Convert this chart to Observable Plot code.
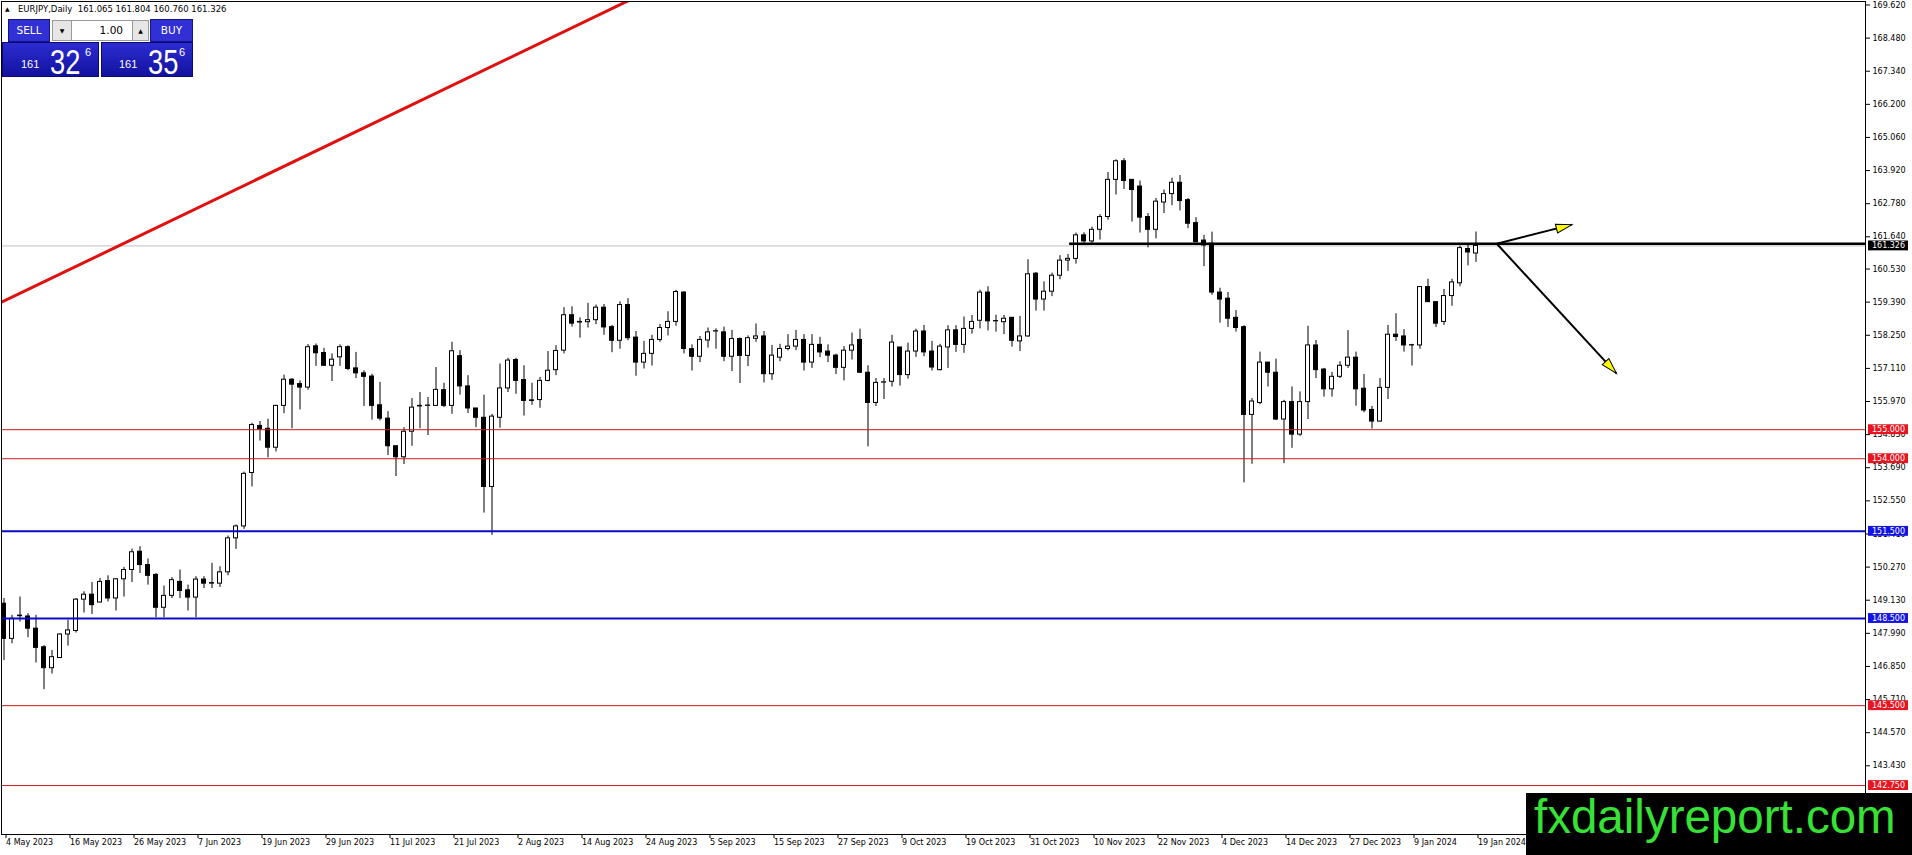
<!DOCTYPE html>
<html><head><meta charset="utf-8">
<script src="https://cdn.jsdelivr.net/npm/d3@7"></script>
<script src="https://cdn.jsdelivr.net/npm/@observablehq/plot@0.6"></script>
<style>
body{margin:0;background:#fff;}
#wrap{position:relative;width:1912px;height:855px;overflow:hidden;font-family:"DejaVu Sans",sans-serif;}
.abs{position:absolute;box-sizing:border-box;}
.btn{background:#3030d4;color:#fff;font-size:10.5px;text-align:center;line-height:21px;border:1px solid #14148a;}
.spin{background:#e6e6e6;border:1px solid #9a9a9a;font-size:6px;text-align:center;line-height:19px;color:#000;}
.pbox{background:linear-gradient(to bottom,#2c2cd2,#12129e);border:1px solid #0a0a70;color:#fff;}
.small{position:absolute;font-family:"Liberation Sans",sans-serif;font-size:11px;line-height:11px;}
.big{position:absolute;font-family:"Liberation Sans",sans-serif;font-size:35px;line-height:35px;transform:scaleX(0.78);transform-origin:left top;}
</style></head><body><div id="wrap"></div>
<script>
// ---- data ----
const opens = [149.01,147.80,148.58,148.57,148.15,147.51,146.79,147.14,147.95,148.07,149.15,149.32,149.05,149.79,149.19,149.85,150.17,150.80,150.34,150.00,
148.87,149.28,149.76,149.47,149.22,149.84,149.70,149.70,150.09,151.26,151.67,153.51,155.13,155.03,154.38,155.82,156.72,156.57,156.45,157.87,
157.64,157.20,157.49,157.84,157.11,156.94,156.83,155.84,155.38,154.43,154.05,154.93,155.80,155.82,155.82,156.36,155.82,157.53,156.49,155.73,
155.41,153.03,155.41,156.42,157.40,156.71,156.01,156.02,156.68,157.05,157.72,158.94,158.71,158.70,158.77,159.20,158.53,158.06,159.29,158.17,
157.31,157.61,158.09,158.50,158.71,159.72,157.77,157.51,158.07,158.38,158.35,157.51,158.12,157.54,158.13,158.21,156.91,157.48,157.78,157.86,
158.09,157.31,157.92,157.69,157.55,157.13,157.72,158.09,156.96,155.92,156.62,156.65,157.83,156.88,157.69,158.38,157.69,157.05,157.83,158.42,
157.92,158.47,158.75,159.72,158.73,158.70,158.85,158.04,158.21,160.37,159.48,159.75,160.30,160.82,160.88,161.69,161.48,161.88,162.32,163.60,
164.24,163.60,163.37,162.32,161.88,162.82,163.11,163.50,162.90,162.11,161.51,161.40,159.72,159.51,158.85,158.53,155.51,155.92,157.31,156.96,
155.35,155.95,154.83,155.95,157.90,157.07,156.39,156.82,157.20,157.48,156.41,155.68,155.28,156.44,158.27,158.21,157.90,157.90,159.91,159.39,
158.71,159.60,160.04,161.22,161.065];
const highs = [149.19,148.61,149.24,148.67,148.61,147.57,147.40,147.97,148.44,149.19,149.42,149.74,149.88,149.97,149.88,150.26,150.89,150.97,150.55,150.05,
149.62,149.91,150.17,149.65,149.94,149.94,150.40,150.28,151.34,151.72,153.54,155.22,155.28,155.36,155.84,156.88,156.76,156.68,157.93,157.95,
157.80,157.61,157.92,157.89,157.66,157.03,156.91,156.63,155.62,154.44,155.07,156.07,156.28,156.11,157.14,156.60,158.01,157.72,156.86,155.73,
156.19,155.53,157.26,157.46,157.46,157.20,156.60,156.80,157.69,157.89,159.20,159.23,158.85,159.35,159.29,159.31,158.59,159.40,159.51,158.38,
158.04,158.25,158.62,159.06,159.80,159.75,157.92,158.21,158.50,158.47,158.53,158.42,158.16,158.23,158.64,158.38,157.90,157.94,158.27,158.42,
158.27,158.27,158.18,157.92,157.60,157.86,158.33,158.46,157.20,156.76,156.76,158.25,157.83,157.98,158.46,158.59,158.04,157.94,158.58,158.58,
158.88,158.93,159.80,159.92,158.94,158.93,158.87,158.90,160.85,160.41,160.09,160.39,160.99,161.03,161.77,161.78,161.97,162.40,163.85,164.29,
164.33,163.60,163.56,162.44,162.96,163.25,163.66,163.75,162.96,162.30,161.69,161.80,159.87,159.72,159.10,158.58,156.07,157.67,157.31,157.43,
156.01,156.47,156.30,158.56,158.07,157.11,156.97,157.34,158.41,157.67,156.90,155.80,156.76,158.59,158.99,158.44,157.94,159.91,160.18,159.39,
159.83,160.18,161.32,161.40,161.804];
const lows = [147.05,147.63,148.38,147.84,146.97,146.05,146.59,147.12,147.55,148.00,148.69,148.64,149.04,149.07,148.76,149.24,149.74,150.05,149.65,148.53,
148.53,149.19,149.19,148.76,148.53,149.53,149.53,149.57,149.97,150.88,151.57,153.03,154.61,154.03,154.23,155.55,155.03,155.68,156.36,157.18,
157.19,156.66,157.18,157.03,156.76,155.80,155.33,155.30,154.11,153.39,153.80,154.43,155.03,154.80,155.80,155.76,155.53,156.19,155.56,155.07,
152.13,151.36,155.05,156.28,156.22,155.47,155.84,155.74,156.65,156.86,157.61,158.53,158.15,158.50,158.62,158.25,157.65,157.77,158.06,156.84,
157.09,157.19,158.01,158.23,158.56,157.61,157.02,157.31,157.81,157.77,157.34,157.00,156.59,157.17,158.01,156.61,156.70,157.34,157.71,157.72,
157.02,157.11,157.48,157.31,156.90,156.68,157.40,156.95,154.41,155.80,156.04,156.47,156.50,156.74,157.49,157.51,157.02,157.02,157.11,157.66,
157.63,158.29,158.47,158.40,158.36,158.27,157.84,157.69,158.18,159.08,159.08,159.58,160.16,160.45,160.70,161.36,161.36,161.53,162.21,163.08,
163.27,162.15,161.77,161.26,161.57,162.44,162.71,162.53,161.92,161.45,160.61,159.63,158.67,158.52,158.36,153.17,153.81,155.86,156.47,155.31,
153.83,154.36,154.77,155.35,156.76,156.12,156.12,156.76,157.11,155.81,155.58,155.02,155.26,156.04,158.04,157.67,157.19,157.77,159.39,158.52,
158.59,159.25,159.92,160.64,160.760];
const closes = [147.80,148.49,148.60,148.15,147.49,146.79,147.17,147.95,148.09,149.15,149.32,148.96,149.76,149.19,149.85,150.17,150.78,150.34,149.97,148.87,
149.28,149.82,149.45,149.22,149.84,149.70,149.72,150.09,151.26,151.67,153.48,155.16,155.01,154.38,155.82,156.72,156.55,156.45,157.84,157.63,
157.20,157.41,157.84,157.09,156.94,156.82,155.82,155.38,154.43,154.05,154.93,155.76,155.82,155.83,156.37,155.82,157.70,156.49,155.73,155.41,
153.03,155.45,156.42,157.38,156.68,155.99,155.99,156.68,157.03,157.71,158.94,158.65,158.69,158.77,159.20,158.52,158.06,159.29,158.15,157.31,
157.61,158.09,158.50,158.71,159.74,157.78,157.51,158.09,158.35,158.39,157.51,158.12,157.54,158.15,158.21,156.91,157.55,157.78,157.86,158.09,
157.31,157.92,157.66,157.55,157.13,157.72,157.90,156.96,155.92,156.61,156.63,158.00,156.88,157.69,158.38,157.66,157.14,157.86,158.42,157.92,
158.47,158.71,159.72,158.73,158.74,158.82,158.06,158.21,160.35,159.48,159.75,160.30,160.82,160.88,161.69,161.48,161.88,162.32,163.60,164.24,
163.56,163.25,162.30,161.88,162.85,163.11,163.50,162.87,162.09,161.45,161.34,159.72,159.48,158.82,158.50,155.51,155.97,157.31,156.96,155.35,
155.95,154.83,155.95,157.90,157.05,156.39,156.82,157.20,157.48,156.39,155.66,155.28,156.44,158.27,158.19,157.90,157.91,159.91,159.39,158.65,
159.60,160.07,161.25,161.10,161.326];

const xLabels = ["4 May 2023","16 May 2023","26 May 2023","7 Jun 2023","19 Jun 2023","29 Jun 2023","11 Jul 2023","21 Jul 2023",
"2 Aug 2023","14 Aug 2023","24 Aug 2023","5 Sep 2023","15 Sep 2023","27 Sep 2023","9 Oct 2023","19 Oct 2023","31 Oct 2023",
"10 Nov 2023","22 Nov 2023","4 Dec 2023","14 Dec 2023","27 Dec 2023","9 Jan 2024","19 Jan 2024"];
const xLabelBars = [0,8,16,24,32,40,48,56,64,72,80,88,96,104,112,120,128,136,144,152,160,168,176,184];
const yTicks = [169.62,168.48,167.34,166.20,165.06,163.92,162.78,161.64,160.53,159.39,158.25,157.11,155.97,154.83,153.69,152.55,151.41,150.27,149.13,147.99,146.85,145.71,144.57,143.43];
const redLevels = [155.0,154.0,145.5,142.75];
const blueLevels = [151.5,148.5];
const lastPrice = 161.326;
const resistance = [{bar1:133.2, price:161.40}];
const trendLine = [{bar:-0.44, price:159.37},{bar:78.05, price:169.77}];
const arrows = [{bar1:186.6, p1:161.40, bar2:196.0, p2:162.06},{bar1:186.6, p1:161.40, bar2:201.55, p2:156.94}];
const headerText = "EURJPY,Daily  161.065 161.804 160.760 161.326";

// ---- layout ----
const W = 1912, H = 855, mL = 1, mR = 47, mT = 1, mB = 21;
const xDomain = [-0.3125, 232.6875];
const yDomain = [141.065, 169.740];
const xMax = xDomain[1];
const sx = d3.scaleLinear(xDomain, [mL, W - mR]);
const sy = d3.scaleLinear(yDomain, [H - mB, mT]);

const candles = opens.map((o, i) => ({i, o, h: highs[i], l: lows[i], c: closes[i]}));
const labelMap = new Map(xLabelBars.map((b, i) => [b, xLabels[i]]));

const headSymbol = {draw(ctx, size) { ctx.moveTo(0, 0); ctx.lineTo(4.5, 16); ctx.lineTo(-4.5, 16); ctx.closePath(); }};
const angle = d => Math.atan2(sx(d.bar2) - sx(d.bar1), -(sy(d.p2) - sy(d.p1))) * 180 / Math.PI;

const bx1 = xMax + 3/8, bx2 = xMax + 43/8, bxc = xMax + 23/8, bh = 0.17;
const tag = v => ({v});

const chart = Plot.plot({
  width: W, height: H, marginLeft: mL, marginRight: mR, marginTop: mT, marginBottom: mB,
  x: {type: "linear", domain: xDomain},
  y: {type: "linear", domain: yDomain},
  style: {fontFamily: "DejaVu Sans", fontSize: "8px", background: "white", color: "black", overflow: "visible"},
  marks: [
    Plot.ruleY([lastPrice], {stroke: "#c0c0c0", strokeWidth: 1}),
    Plot.line(trendLine, {x: "bar", y: "price", stroke: "#e01010", strokeWidth: 3, clip: true}),
    Plot.ruleX(candles, {x: "i", y1: "l", y2: "h", stroke: "black", strokeWidth: 1}),
    Plot.rect(candles, {x1: d => d.i - 0.25, x2: d => d.i + 0.25, y1: "o", y2: "c",
      fill: d => d.c >= d.o ? "white" : "black", stroke: "black", strokeWidth: 1}),
    Plot.ruleY(redLevels, {stroke: "#cc1a1a", strokeWidth: 1}),
    Plot.ruleY(blueLevels, {stroke: "#0a0ac8", strokeWidth: 2}),
    Plot.ruleY(resistance, {y: "price", x1: "bar1", x2: () => xMax, stroke: "black", strokeWidth: 2.5}),
    Plot.link(arrows, {x1: "bar1", y1: "p1", x2: "bar2", y2: "p2", stroke: "black", strokeWidth: 2}),
    Plot.dot(arrows, {x: "bar2", y: "p2", symbol: headSymbol, r: 5, fill: "#ffff00", stroke: "black", strokeWidth: 1, rotate: angle}),
    Plot.frame({stroke: "black"}),
    Plot.axisX({ticks: xLabelBars, anchor: "bottom", tickSize: 4, tickPadding: 1, textAnchor: "start", dx: 2,
      tickFormat: d => labelMap.get(d), fontSize: 8}),
    Plot.axisY({ticks: yTicks, anchor: "right", tickSize: 4, tickPadding: 3, tickFormat: d => d.toFixed(3), fontSize: 8}),
    Plot.rect(redLevels.map(tag), {x1: () => bx1, x2: () => bx2, y1: d => d.v - bh, y2: d => d.v + bh, fill: "#e8141e"}),
    Plot.rect(blueLevels.map(tag), {x1: () => bx1, x2: () => bx2, y1: d => d.v - bh, y2: d => d.v + bh, fill: "#1414e6"}),
    Plot.rect([lastPrice].map(tag), {x1: () => bx1, x2: () => bx2, y1: d => d.v - bh, y2: d => d.v + bh, fill: "black"}),
    Plot.text([...redLevels, ...blueLevels, lastPrice].map(tag), {x: () => bxc, y: "v", text: d => d.v.toFixed(3), fill: "white", fontSize: 8})
  ]
});

const wrap = document.getElementById("wrap");
wrap.appendChild(chart);

function add(html) { wrap.insertAdjacentHTML("beforeend", html); }
// header
add(`<div class="abs" style="left:5px;top:4px;font-size:6px;line-height:10px;">▲</div>`);
add(`<div class="abs" style="left:18px;top:3px;font-size:8.5px;line-height:12px;white-space:pre;">${headerText}</div>`);
// trade panel
add(`<div class="abs btn" style="left:8px;top:19px;width:42px;height:23px;">SELL</div>`);
add(`<div class="abs spin" style="left:52px;top:20px;width:20px;height:21px;">▼</div>`);
add(`<div class="abs" style="left:72px;top:20px;width:60px;height:21px;background:#fff;border-top:1px solid #9a9a9a;border-bottom:1px solid #9a9a9a;font-size:10.5px;line-height:19px;text-align:right;padding-right:9px;">1.00</div>`);
add(`<div class="abs spin" style="left:132px;top:20px;width:17px;height:21px;">▲</div>`);
add(`<div class="abs btn" style="left:150px;top:19px;width:43px;height:23px;">BUY</div>`);
add(`<div class="abs pbox" style="left:2px;top:42px;width:97px;height:35px;">
  <span class="small" style="left:18px;top:16px;">161</span>
  <span class="big" style="left:47px;top:1px;">32</span>
  <span class="small" style="left:82px;top:4px;">6</span></div>`);
add(`<div class="abs pbox" style="left:101px;top:42px;width:92px;height:35px;">
  <span class="small" style="left:17px;top:16px;">161</span>
  <span class="big" style="left:46px;top:1px;">35</span>
  <span class="small" style="left:77px;top:4px;">6</span></div>`);
// watermark
add(`<div class="abs" style="left:1526px;top:793px;width:386px;height:62px;background:#000;">
  <span style="position:absolute;left:8px;top:0px;font-family:'Liberation Sans',sans-serif;font-size:47.5px;line-height:47px;color:#36e236;white-space:pre;">fxdailyreport.com</span></div>`);
</script></body></html>
